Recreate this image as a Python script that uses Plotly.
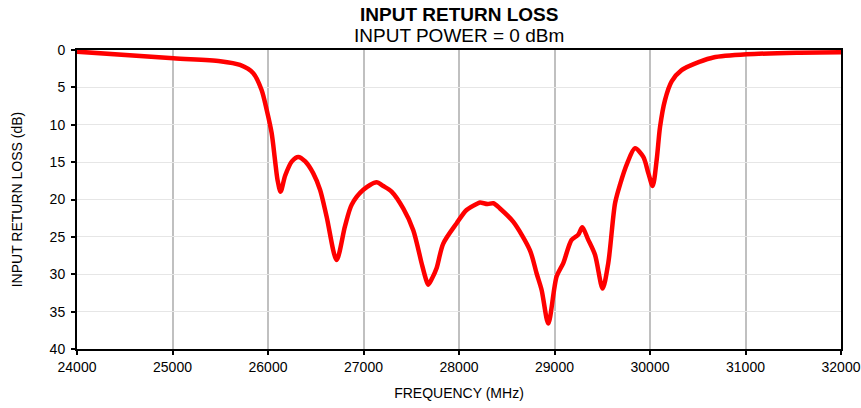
import plotly.graph_objects as go

freq_mhz = [24000, 25009, 25500, 25707, 25846, 25933, 25986, 26038, 26073, 26100, 26132,
            26180, 26250, 26317, 26390, 26474, 26545, 26614, 26718, 26806, 26876, 26998, 27137, 27207, 27294,
            27416, 27521, 27608, 27650, 27678, 27720, 27765, 27835, 27974, 28079, 28200,
            28220, 28300, 28360, 28429, 28569, 28743, 28813, 28865, 28935, 29022, 29092,
            29179, 29249, 29291, 29350, 29424, 29504, 29563, 29634, 29686, 29760, 29843, 29930,
            29983, 30028, 30070, 30105, 30157, 30227, 30331, 30524, 30663, 31012, 31536, 32000]
return_loss_db = [0.22, 1.1, 1.5, 2.0, 3.1, 5.35, 8.0, 11.1, 14.7, 17.4, 18.95,
                  16.8, 14.9, 14.3, 14.9, 16.5, 18.7, 22.3, 28.1, 23.6, 20.7, 18.7, 17.7, 18.2, 18.95,
                  21.2, 24.1, 28.5, 30.5, 31.4, 30.5, 29.2, 25.9, 23.2, 21.4, 20.5,
                  20.4, 20.6, 20.5, 21.2, 23.0, 26.8, 29.9, 32.1, 36.6, 30.3, 28.5,
                  25.4, 24.7, 23.7, 25.3, 27.4, 31.9, 28.5, 20.5, 18.0, 15.2, 13.15, 14.3,
                  16.5, 18.2, 14.7, 10.3, 6.7, 4.2, 2.7, 1.56, 1.0, 0.58, 0.36, 0.3]

x_ticks = [24000, 25000, 26000, 27000, 28000, 29000, 30000, 31000, 32000]
y_ticks = [0, 5, 10, 15, 20, 25, 30, 35, 40]

font = "Liberation Sans, Arial, Helvetica, sans-serif"

fig = go.Figure()
fig.add_trace(go.Scatter(x=freq_mhz, y=return_loss_db, mode="lines",
                         line=dict(color="#ff0000", width=4.5, shape="spline", smoothing=0.8),
                         showlegend=False, hoverinfo="skip"))

fig.update_layout(
    width=861, height=408,
    margin=dict(l=77, r=20, t=50, b=59),
    paper_bgcolor="white", plot_bgcolor="white",
    font=dict(family=font, size=14, color="#000000"),
    annotations=[
        dict(text="<b>INPUT RETURN LOSS</b>", x=0.5, y=1, xref="paper", yref="paper",
             xanchor="center", yanchor="middle", yshift=36, showarrow=False,
             font=dict(size=19, family=font)),
        dict(text="INPUT POWER = 0 dBm", x=0.5, y=1, xref="paper", yref="paper",
             xanchor="center", yanchor="middle", yshift=15, showarrow=False,
             font=dict(size=19, family=font)),
    ],
    xaxis=dict(range=[24000, 32000], tickvals=x_ticks, ticktext=[str(v) for v in x_ticks],
               showgrid=True, gridcolor="#c0c0c0", gridwidth=2,
               showline=True, linecolor="black", linewidth=2, mirror=True,
               ticks="outside", ticklen=4, tickcolor="black", tickwidth=1.5,
               tickfont=dict(size=14), zeroline=False, automargin=False,
               title=dict(text="FREQUENCY (MHz)", font=dict(size=14), standoff=14)),
    yaxis=dict(range=[40, 0], tickvals=y_ticks,
               showgrid=True, gridcolor="#e6e6e6", gridwidth=1,
               showline=True, linecolor="black", linewidth=2, mirror=True,
               ticks="outside", ticklen=4, tickcolor="black", tickwidth=1.5,
               tickfont=dict(size=14), zeroline=False, automargin=False,
               ticklabelstandoff=3,
               title=dict(text="INPUT RETURN LOSS (dB)", font=dict(size=14), standoff=24)),
)

fig.write_html("out.html", config={"displayModeBar": False},
               post_script="document.body.style.margin='0';")
